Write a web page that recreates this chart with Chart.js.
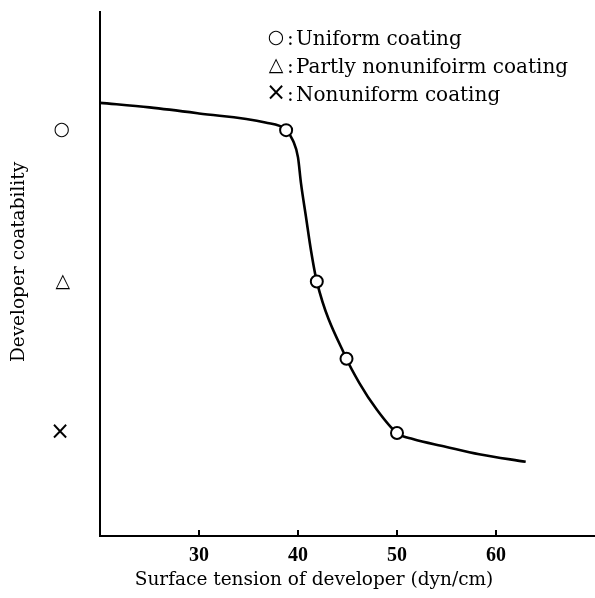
<!DOCTYPE html>
<html>
<head>
<meta charset="utf-8">
<script src="https://cdn.jsdelivr.net/npm/chart.js@4.4.1/dist/chart.umd.min.js"></script>
<style>
  html, body { margin: 0; padding: 0; background: #fff; }
</style>
</head>
<body>
<canvas id="coatChart" width="595" height="598"></canvas>
<script>
// curve (surface tension vs coatability level)
const curveX = [20, 25, 30, 36.7, 38.8, 39.5, 40.0, 40.3, 40.8, 41.3, 41.9, 44.9, 46.2, 47.9, 50.0, 51.6, 54.9, 58.3, 63.0];
const curveY = [3.18, 3.15, 3.11, 3.05, 3.0, 2.93, 2.82, 2.65, 2.43, 2.21, 2.0, 1.49, 1.33, 1.16, 1.0, 0.96, 0.91, 0.86, 0.81];

// measured points (open circles)
const pointX = [38.8, 41.9, 44.9, 50.0];
const pointY = [3.0, 2.0, 1.49, 1.0];

// axis ticks
const xTicks = [30, 40, 50, 60];
const coatLevels = [1, 2, 3];
const coatSymbols = ['×', '△', '○'];

// legend text
const legendSymbols = ['○', '△', '×'];
const legendLabels = ['Uniform coating', 'Partly nonunifoirm coating', 'Nonuniform coating'];

const xTitle = 'Surface tension of developer (dyn/cm)';
const yTitle = 'Developer coatability';

const curveData = curveX.map((x, i) => ({ x: x, y: curveY[i] }));
const pointData = pointX.map((x, i) => ({ x: x, y: pointY[i] }));

function symbolSize(sym) {
    return sym === '×' ? 24 : 19;
}

// keep the plot box exactly where the original has it
function noPadding(s) {
    s.paddingTop = 0;
    s.paddingBottom = 0;
    s.paddingLeft = 0;
    s.paddingRight = 0;
}

const textPlugin = {
    id: 'textPlugin',
    afterDraw(chart) {
        const ctx = chart.ctx;
        const area = chart.chartArea;
        const xs = chart.scales.x;
        ctx.save();
        ctx.fillStyle = '#000';
        ctx.strokeStyle = '#000';

        // small tick marks pointing into the plot
        ctx.lineWidth = 2;
        xTicks.forEach(v => {
            const px = Math.round(xs.getPixelForValue(v));
            ctx.beginPath();
            ctx.moveTo(px, area.bottom);
            ctx.lineTo(px, area.bottom - 6);
            ctx.stroke();
        });

        // legend block
        const rows = [38, 66, 94];
        legendLabels.forEach((label, i) => {
            ctx.textBaseline = 'middle';
            ctx.textAlign = 'center';
            ctx.font = symbolSize(legendSymbols[i]) + 'px "DejaVu Sans"';
            ctx.fillText(legendSymbols[i], 276, rows[i]);
            ctx.textAlign = 'left';
            ctx.textBaseline = 'alphabetic';
            ctx.font = '20px "DejaVu Serif"';
            ctx.fillText(':', 287, rows[i] + 7);
            ctx.fillText(label, 296, rows[i] + 7);
        });

        // axis titles
        ctx.font = '18.5px "DejaVu Serif"';
        ctx.textAlign = 'center';
        ctx.textBaseline = 'middle';
        ctx.fillText(xTitle, 314, 580);

        ctx.translate(19, 262);
        ctx.rotate(-Math.PI / 2);
        ctx.fillText(yTitle, 0, 0);
        ctx.restore();
    }
};

const ctx = document.getElementById('coatChart').getContext('2d');
const coatChart = new Chart(ctx, {
    type: 'line',
    data: {
        datasets: [{
            type: 'scatter',
            data: pointData,
            order: 0,
            pointRadius: 6,
            pointBorderWidth: 2,
            pointBackgroundColor: '#fff',
            pointBorderColor: '#000'
        }, {
            data: curveData,
            order: 1,
            borderColor: '#000',
            borderWidth: 2.6,
            pointRadius: 0,
            fill: false,
            cubicInterpolationMode: 'monotone'
        }]
    },
    options: {
        responsive: false,
        animation: false,
        layout: { autoPadding: false, padding: { top: 12, right: 0, left: 0, bottom: 0 } },
        plugins: {
            legend: { display: false },
            tooltip: { enabled: false }
        },
        scales: {
            x: {
                type: 'linear',
                min: 20,
                max: 70,
                grid: { display: false, drawTicks: false },
                border: { display: true, color: '#000', width: 2 },
                ticks: {
                    stepSize: 10,
                    padding: 8,
                    color: '#000',
                    maxRotation: 0,
                    font: { family: 'Liberation Serif', size: 20, weight: 'bold' },
                    callback: v => xTicks.includes(v) ? String(v) : ''
                },
                afterFit: s => { s.height = 62; noPadding(s); }
            },
            y: {
                type: 'linear',
                min: 0.32,
                max: 3.78,
                grid: { display: false, drawTicks: false },
                border: { display: true, color: '#000', width: 2 },
                afterBuildTicks: s => { s.ticks = coatLevels.map(v => ({ value: v })); },
                ticks: {
                    padding: 30,
                    color: '#000',
                    font: ctx2 => ({
                        family: 'DejaVu Sans',
                        size: ctx2.tick ? symbolSize(coatSymbols[coatLevels.indexOf(ctx2.tick.value)]) : 19
                    }),
                    callback: v => coatSymbols[coatLevels.indexOf(v)] || ''
                },
                afterFit: s => { s.width = 100; noPadding(s); }
            }
        }
    },
    plugins: [textPlugin]
});
</script>
</body>
</html>
